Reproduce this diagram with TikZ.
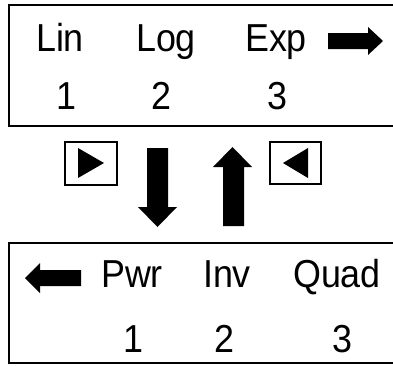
\documentclass[tikz,border=0pt]{standalone}
\usepackage{fontspec}
\setmainfont{Liberation Sans}[FakeStretch=0.92]
\usepackage{tikz}
\usetikzlibrary{positioning}

\tikzset{
  label/.style={anchor=base, inner sep=0pt, font=\fontsize{39}{42}\selectfont},
  panel/.style={draw, line width=2pt},
  keybox/.style={draw, line width=1.8pt},
  blockarrow/.style={fill=black}
}

\begin{document}
\begin{tikzpicture}[x=1pt, y=-1pt]
    \useasboundingbox (0,0) rectangle (393,365);
    % top panel, open on the right
    \draw[panel] (400,5) -- (9,5) -- (9,126) -- (400,126);
    \node[label] (lin) at (60,51) {Lin};
    \node[label] (log) at (166,51) {Log};
    \node[label] (exp) at (276,51) {Exp};
    \node[label] (t1) at (66,109) {1};
    \node[label] (t2) at (161,109) {2};
    \node[label] (t3) at (277,109) {3};
    \fill[blockarrow] (328,33) -- (368,33) -- (368,27) -- (383,41) -- (368,55) -- (368,49) -- (328,49) -- cycle;
    % keys and scroll arrows
    \draw[keybox] (65,142) rectangle (117,185);
    \fill (78,148) -- (104,163) -- (78,178) -- cycle;
    \draw[keybox] (270,142) rectangle (321,184);
    \fill (308,148) -- (283,163) -- (308,178) -- cycle;
    \fill[blockarrow] (147,148) -- (168,148) -- (168,207) -- (177,207) -- (157.5,227) -- (138,207) -- (147,207) -- cycle;
    \fill[blockarrow] (223,226) -- (244,226) -- (244,167) -- (252,167) -- (232.5,147) -- (213,167) -- (223,167) -- cycle;
    % bottom panel
    \draw[panel] (400,243) -- (9,243) -- (9,363) -- (400,363);
    \fill[blockarrow] (81,270) -- (40,270) -- (40,263) -- (25,278) -- (40,293) -- (40,286) -- (81,286) -- cycle;
    \node[label] (pwr) at (132,287) {Pwr};
    \node[label] (inv) at (227,287) {Inv};
    \node[label] (quad) at (337,287) {Quad};
    \node[label] (b1) at (133,352) {1};
    \node[label] (b2) at (224,352) {2};
    \node[label] (b3) at (342,352) {3};
\end{tikzpicture}
\end{document}
